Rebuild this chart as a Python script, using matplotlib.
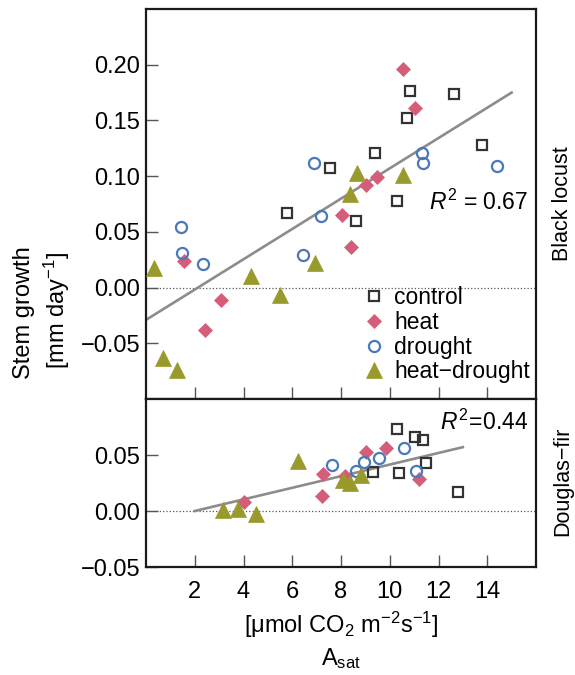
# Stem growth vs light-saturated assimilation (A_sat) for two species,
# four treatments each, with linear fit lines.

import numpy
from matplotlib import pyplot

# --- Black locust (top panel) ---
bl_control_x = [7.54, 9.39, 8.61, 5.78, 10.29, 10.82, 10.70, 12.62, 13.77]
bl_control_y = [0.107, 0.121, 0.060, 0.067, 0.078, 0.176, 0.152, 0.174, 0.128]
bl_heat_x = [10.53, 11.02, 9.47, 9.02, 8.03, 8.40, 1.56, 3.07, 2.42]
bl_heat_y = [0.196, 0.161, 0.099, 0.092, 0.065, 0.036, 0.024, -0.011, -0.038]
bl_drought_x = [6.89, 11.31, 11.35, 14.39, 1.43, 1.48, 2.34, 6.43, 7.17]
bl_drought_y = [0.112, 0.121, 0.112, 0.109, 0.054, 0.031, 0.021, 0.029, 0.064]
bl_hd_x = [0.33, 4.30, 5.49, 6.95, 0.70, 1.27, 8.36, 8.65, 10.53]
bl_hd_y = [0.018, 0.010, -0.007, 0.022, -0.063, -0.074, 0.084, 0.103, 0.101]
bl_fit_x = [0.0, 15.0]
bl_fit_y = [-0.029, 0.175]

# --- Douglas-fir (bottom panel) ---
df_control_x = [10.29, 11.02, 11.35, 11.48, 10.37, 9.30, 12.79]
df_control_y = [0.073, 0.066, 0.063, 0.043, 0.034, 0.035, 0.017]
df_heat_x = [9.84, 9.02, 7.25, 7.21, 11.19, 4.02, 8.15]
df_heat_y = [0.056, 0.053, 0.033, 0.013, 0.029, 0.008, 0.031]
df_drought_x = [10.57, 9.55, 8.93, 8.61, 11.07, 7.62]
df_drought_y = [0.056, 0.047, 0.044, 0.036, 0.036, 0.041]
df_hd_x = [6.23, 3.16, 3.77, 4.51, 8.07, 8.36, 8.81]
df_hd_y = [0.045, 0.001, 0.002, -0.003, 0.028, 0.025, 0.032]
df_fit_x = [2.0, 13.0]
df_fit_y = [0.0, 0.057]

x_ticks = [2, 4, 6, 8, 10, 12, 14]
top_y_ticks = [-0.05, 0.00, 0.05, 0.10, 0.15, 0.20]
bottom_y_ticks = [-0.05, 0.00, 0.05]

treatment_labels = ['control', 'heat', 'drought', 'heat\u2212drought']


pyplot.rcParams['font.family'] = ['Liberation Sans', 'DejaVu Sans']
pyplot.rcParams['axes.unicode_minus'] = True
pyplot.rcParams['mathtext.fontset'] = 'custom'
pyplot.rcParams['mathtext.rm'] = 'Liberation Sans'
pyplot.rcParams['mathtext.it'] = 'Liberation Sans:italic'
pyplot.rcParams['mathtext.bf'] = 'Liberation Sans:bold'

styles = [
  dict(marker='s', markersize=7.5, markerfacecolor='none',
       markeredgecolor='#333333', markeredgewidth=1.6),
  dict(marker='D', markersize=7.5, markerfacecolor='#d45d79',
       markeredgecolor='#d45d79', markeredgewidth=0.5),
  dict(marker='o', markersize=8, markerfacecolor='none',
       markeredgecolor='#4a78b8', markeredgewidth=1.6),
  dict(marker='^', markersize=11, markerfacecolor='#999a2c',
       markeredgecolor='#999a2c', markeredgewidth=0.5),
]


def style_axes(ax, yticks, ylim):
  """Common look of both panels."""
  ax.set_xlim(0, 16)
  ax.set_ylim(*ylim)
  ax.set_xticks(x_ticks)
  ax.set_yticks(yticks)
  ax.set_yticklabels(['{:.2f}'.format(v).replace('-', '\u2212') for v in yticks])
  ax.tick_params(direction='in', length=8.5, width=1.0, color='#555555',
                 labelsize=17, pad=4)
  ax.tick_params(axis='x', pad=10)
  for spine in ax.spines.values():
    spine.set_linewidth(1.6)
    spine.set_color('#1a1a1a')
  ax.axhline(0.0, color='#555555', linestyle=':', linewidth=0.9, zorder=1)


def plot_panel(ax, groups, fit_x, fit_y):
  ax.plot(fit_x, fit_y, color='#8c8c8c', linewidth=1.9, zorder=2)
  handles = []
  for (gx, gy), style, label in zip(groups, styles, treatment_labels):
    h, = ax.plot(gx, gy, linestyle='none', label=label, zorder=3, **style)
    handles.append(h)
  return handles


fig = pyplot.figure(figsize=(5.75, 6.75), dpi=100)
left, width = 146/575., 390/575.
ax_top = fig.add_axes([left, 1 - 399/675., width, 390/675.])
ax_bot = fig.add_axes([left, 1 - 567/675., width, 168/675.])

handles = plot_panel(ax_top,
                     [(bl_control_x, bl_control_y), (bl_heat_x, bl_heat_y),
                      (bl_drought_x, bl_drought_y), (bl_hd_x, bl_hd_y)],
                     bl_fit_x, bl_fit_y)
plot_panel(ax_bot,
           [(df_control_x, df_control_y), (df_heat_x, df_heat_y),
            (df_drought_x, df_drought_y), (df_hd_x, df_hd_y)],
           df_fit_x, df_fit_y)

style_axes(ax_top, top_y_ticks, (-0.1, 0.25))
style_axes(ax_bot, bottom_y_ticks, (-0.05, 0.1))
ax_top.tick_params(axis='x', labelbottom=False)

ax_top.legend(handles=handles, loc='lower right', frameon=False,
              fontsize=16.5, handlelength=0.8, handletextpad=0.5,
              labelspacing=0.08, borderaxespad=0.0, borderpad=0.0,
              bbox_to_anchor=(0.985, 0.04))

ax_top.text(0.98, 0.505, r'$R^2$ = 0.67', transform=ax_top.transAxes,
            ha='right', va='center', fontsize=16.5)
ax_bot.text(0.98, 0.86, r'$R^2\!=\!0.44$', transform=ax_bot.transAxes,
            ha='right', va='center', fontsize=16.5)

fig.text(0.979, 1 - 204/675., 'Black locust', rotation=90,
         ha='center', va='center', fontsize=15.5)
fig.text(0.979, 1 - 481/675., 'Douglas\u2212fir', rotation=90,
         ha='center', va='center', fontsize=15.5)

fig.text(24/575., 1 - 313/675., 'Stem growth', rotation=90,
         ha='center', va='center', fontsize=17)
fig.text(57/575., 1 - 310/675., r'[mm day$^{-1}$]', rotation=90,
         ha='center', va='center', fontsize=17)

fig.text(left + width/2, 1 - 625/675., r'[$\mathrm{\mu}$mol CO$_2$ m$^{-2}$s$^{-1}$]',
         ha='center', va='center', fontsize=17)
fig.text(left + width/2, 1 - 659/675., r'A$_\mathrm{sat}$',
         ha='center', va='center', fontsize=17)

fig.savefig('out.png', dpi=100)
